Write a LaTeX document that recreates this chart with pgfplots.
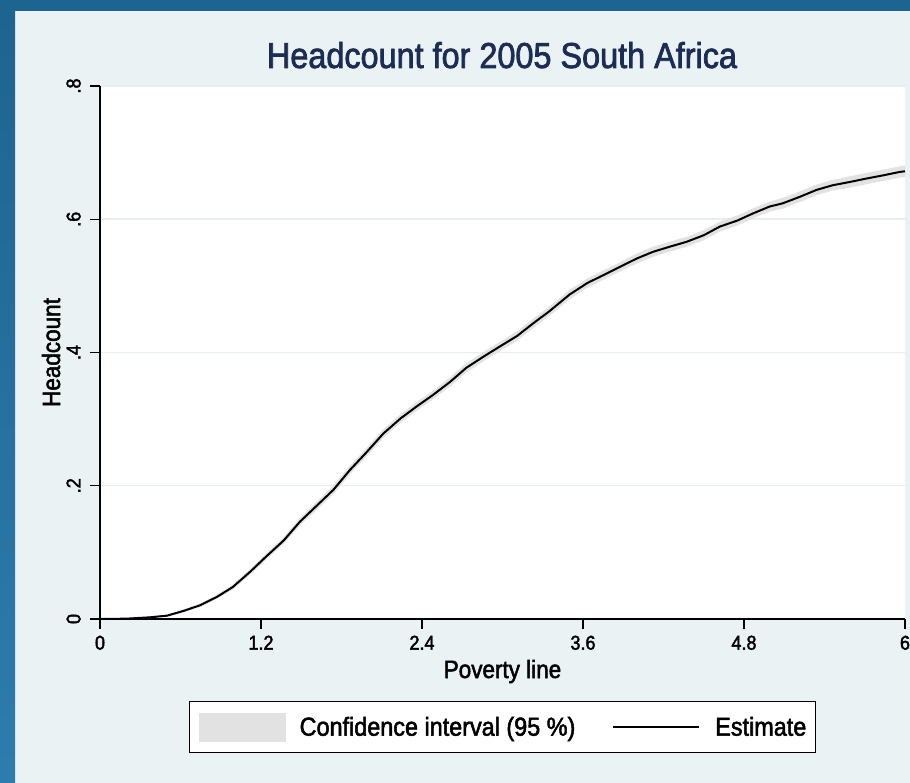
\documentclass[border=0pt]{standalone}
\usepackage{pgfplots}
\pgfplotsset{compat=1.18}
\usepackage{pgfplotstable}
\usepackage{fontspec}
\setmainfont{Liberation Sans}[UprightFeatures={FakeStretch=0.9, FakeBold=2}]
\definecolor{frameblue}{HTML}{1E6490}
\definecolor{frameblue2}{HTML}{2C7DAD}
\definecolor{bgc}{HTML}{EAF2F3}
\definecolor{gridc}{HTML}{E6EEF0}
\definecolor{bandc}{HTML}{E2E2E2}
\definecolor{titlec}{HTML}{1C2D55}

\pgfplotstableread{
x est
0 0
0.2 0.0005
0.37 0.0025
0.5 0.005
0.62 0.012
0.745 0.0205
0.87 0.033
0.99 0.048
1.12 0.071
1.24 0.094
1.37 0.118
1.49 0.146
1.61 0.169
1.74 0.194
1.86 0.223
1.99 0.251
2.11 0.278
2.24 0.301
2.36 0.319
2.48 0.336
2.61 0.356
2.73 0.377
2.86 0.394
2.98 0.409
3.11 0.425
3.23 0.444
3.35 0.462
3.5 0.487
3.63 0.504
3.75 0.516
3.88 0.529
4.0 0.541
4.12 0.551
4.25 0.559
4.37 0.566
4.5 0.576
4.62 0.589
4.75 0.598
4.87 0.609
4.99 0.619
5.09 0.624
5.22 0.634
5.34 0.644
5.46 0.651
5.59 0.656
5.71 0.661
5.84 0.666
5.96 0.671
6.0 0.672
}\esttab

% confidence band as a closed outline: upper bound forward, lower bound back
\pgfplotstableread{
x y
0 0
0.2 0.001
0.37 0.0035
0.5 0.0065
0.62 0.014
0.745 0.023
0.87 0.036
0.99 0.0515
1.12 0.075
1.24 0.0985
1.37 0.123
1.49 0.1515
1.61 0.175
1.74 0.2005
1.86 0.2295
1.99 0.2575
2.11 0.2845
2.24 0.3075
2.36 0.3255
2.48 0.3425
2.61 0.363
2.73 0.384
2.86 0.401
2.98 0.416
3.11 0.432
3.23 0.451
3.35 0.469
3.5 0.494
3.63 0.511
3.75 0.523
3.88 0.536
4.0 0.5485
4.12 0.5585
4.25 0.5665
4.37 0.5735
4.5 0.5835
4.62 0.5965
4.75 0.6055
4.87 0.6165
4.99 0.6265
5.09 0.632
5.22 0.642
5.34 0.652
5.46 0.659
5.59 0.6645
5.71 0.6695
5.84 0.6745
5.96 0.6795
6.0 0.6805
6.0 0.6635
5.96 0.6625
5.84 0.6575
5.71 0.6525
5.59 0.6475
5.46 0.643
5.34 0.636
5.22 0.626
5.09 0.616
4.99 0.6115
4.87 0.6015
4.75 0.5905
4.62 0.5815
4.5 0.5685
4.37 0.5585
4.25 0.5515
4.12 0.5435
4.0 0.5335
3.88 0.522
3.75 0.509
3.63 0.497
3.5 0.480
3.35 0.455
3.23 0.437
3.11 0.418
2.98 0.402
2.86 0.387
2.73 0.370
2.61 0.349
2.48 0.3295
2.36 0.3125
2.24 0.2945
2.11 0.2715
1.99 0.2445
1.86 0.2165
1.74 0.1875
1.61 0.163
1.49 0.1405
1.37 0.113
1.24 0.0895
1.12 0.067
0.99 0.0445
0.87 0.030
0.745 0.018
0.62 0.010
0.5 0.0035
0.37 0.0015
0.2 0
0 0
}\bandtab

\begin{document}
\begin{tikzpicture}
\fill[bgc] (0,0) rectangle (910bp,783bp);
\fill[frameblue] (0,772bp) rectangle (910bp,783bp);
\shade[top color=frameblue, bottom color=frameblue2] (0,0) rectangle (15bp,772bp);
\node[anchor=base, text=titlec, font=\fontsize{36bp}{40bp}\selectfont, inner sep=0pt] at (502bp,715bp) {Headcount for 2005 South Africa};
\begin{axis}[
  at={(100bp,164bp)}, anchor=south west, scale only axis,
  width=805bp, height=533bp,
  xmin=0, xmax=6, ymin=0, ymax=0.8,
  axis x line*=bottom, axis y line*=left,
  axis line style={black, line width=1.2bp},
  axis background/.style={fill=white},
  xtick={0,1.2,2.4,3.6,4.8,6}, xticklabels={0,1.2,2.4,3.6,4.8,6},
  ytick={0,0.2,0.4,0.6,0.8}, yticklabels={0,.2,.4,.6,.8},
  tick align=outside, major tick length=9.5bp,
  tick style={black, line width=1.2bp},
  ymajorgrids, grid style={gridc, line width=1.5bp},
  ticklabel style={font=\fontsize{20bp}{24bp}\selectfont},
  xticklabel style={anchor=north, inner sep=0pt, yshift=-7bp},
  yticklabel style={rotate=90, anchor=base, inner sep=0pt, yshift=10bp},
  xlabel={Poverty line}, ylabel={Headcount},
  label style={font=\fontsize{25bp}{30bp}\selectfont},
  xlabel style={at={(axis description cs:0.5,0)}, anchor=base, yshift=-59bp, inner sep=0pt},
  ylabel style={at={(axis description cs:0,0.5)}, anchor=base, yshift=40bp, inner sep=0pt},
  legend columns=2,
  legend style={at={(0.5,-0.15385)}, anchor=north, draw=black, line width=1bp, fill=white,
    font=\fontsize{26bp}{30bp}\selectfont, inner xsep=9bp, inner ysep=11bp,
    nodes={inner sep=0pt},
    /tikz/every even column/.append style={column sep=37bp}},
]
\addplot[fill=bandc, draw=none,
  legend image code/.code={\fill[bandc] (0bp,-14.5bp) rectangle (87bp,14.5bp); \path (101bp,0bp);}]
  table[x=x, y=y]{\bandtab};
\addlegendentry{Confidence interval (95 \%)}
\addplot[black, line width=2bp,
  legend image code/.code={\draw[black, line width=1.8bp] (0bp,0bp) -- (86bp,0bp); \path (101bp,0bp);}]
  table[x=x, y=est]{\esttab};
\addlegendentry{Estimate}
\end{axis}
\pgfresetboundingbox
\path[use as bounding box] (0,0) rectangle (910bp,783bp);
\end{tikzpicture}
\end{document}
